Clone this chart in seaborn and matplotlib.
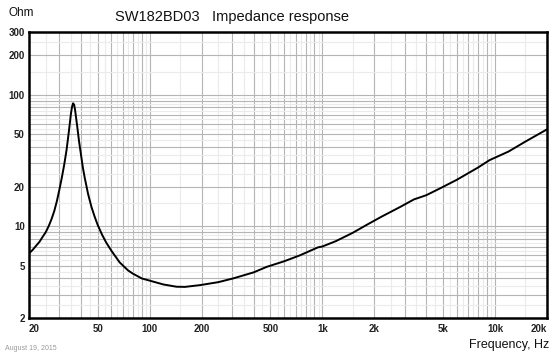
import numpy as np
import pandas as pd
import matplotlib
matplotlib.use("Agg")
import matplotlib.pyplot as plt
import matplotlib.ticker as mticker
import seaborn as sns

# impedance curve (Hz, Ohm)
freq = [20, 21, 22, 23, 24, 25, 26, 27, 28, 29, 30, 31, 32, 33, 34, 35,
        35.5, 36, 36.5, 37, 38, 39, 40, 41, 42, 44, 46, 48, 50, 53, 56, 60,
        67, 75, 80, 90, 100, 120, 143, 160, 196, 250, 304, 400, 476, 600,
        742, 944, 1000, 1200, 1500, 1800, 2200, 2824, 3400, 3600, 4000,
        4812, 6000, 8000, 9300, 12000, 15000, 20000]
ohm = [6.2, 6.6, 7.1, 7.6, 8.3, 9.0, 10.0, 11.3, 13.0, 15.5, 19.0, 23.5,
       29.5, 38, 52, 72, 81, 86, 84, 76, 58, 44, 35, 28, 23.5, 17.5, 14,
       11.8, 10.2, 8.6, 7.5, 6.5, 5.3, 4.6, 4.35, 4.0, 3.85, 3.6, 3.46,
       3.45, 3.56, 3.75, 4.0, 4.45, 4.9, 5.4, 6.0, 6.9, 7.0, 7.7, 8.9,
       10.2, 11.8, 14.0, 16.0, 16.4, 17.2, 19.4, 22.5, 28, 31.8, 37, 44,
       54.5]

x_labels = [20, 50, 100, 200, 500, 1000, 2000, 5000, 10000, 20000]
x_text = ['20', '50', '100', '200', '500', '1k', '2k', '5k', '10k', '20k']
y_labels = [2, 5, 10, 20, 50, 100, 200, 300]

df = pd.DataFrame({'freq': freq, 'ohm': ohm})

sns.set_style("white")
plt.rcParams['font.family'] = ['Liberation Sans', 'DejaVu Sans']

fig = plt.figure(figsize=(5.59, 3.56), dpi=100)
ax = fig.add_axes([0.0519, 0.1067, 0.9266, 0.8034])

ax.set_xscale('log')
ax.set_yscale('log')
ax.set_xlim(20, 20000)
ax.set_ylim(2, 300)

sns.lineplot(data=df, x='freq', y='ohm', ax=ax, color='black', linewidth=1.4,
             estimator=None, sort=False, zorder=5)

# grid: darker lines at 1..9 per decade, light lines at half steps
ax.xaxis.set_major_locator(mticker.LogLocator(base=10, subs=np.arange(1, 10), numticks=50))
ax.yaxis.set_major_locator(mticker.LogLocator(base=10, subs=np.arange(1, 10), numticks=50))
ax.xaxis.set_minor_locator(mticker.LogLocator(base=10, subs=np.arange(1.5, 10, 1), numticks=50))
ax.yaxis.set_minor_locator(mticker.LogLocator(base=10, subs=np.arange(1.5, 10, 1), numticks=50))


def xfmt(v, pos):
    for val, t in zip(x_labels, x_text):
        if abs(v - val) / val < 1e-6:
            return t
    return ''


def yfmt(v, pos):
    for val in y_labels:
        if abs(v - val) / val < 1e-6:
            return str(val)
    return ''


ax.xaxis.set_major_formatter(mticker.FuncFormatter(xfmt))
ax.yaxis.set_major_formatter(mticker.FuncFormatter(yfmt))
ax.xaxis.set_minor_formatter(mticker.NullFormatter())
ax.yaxis.set_minor_formatter(mticker.NullFormatter())

ax.grid(True, which='major', color='#b5b5b5', linewidth=0.8)
ax.grid(True, which='minor', color='#ebebeb', linewidth=0.8)
ax.set_axisbelow(True)

ax.tick_params(which='both', length=0)
ax.tick_params(axis='x', pad=4, labelsize=7)
ax.tick_params(axis='y', pad=3, labelsize=7)
fig.canvas.draw()
for lab in ax.get_xticklabels() + ax.get_yticklabels():
    lab.set_fontweight('bold')
    lab.set_color('#222222')
# keep the end labels inside the frame like the original
for lab in ax.get_xticklabels():
    if lab.get_text() == '20':
        lab.set_horizontalalignment('left')
    elif lab.get_text() == '20k':
        lab.set_horizontalalignment('right')

for s in ax.spines.values():
    s.set_visible(True)
    s.set_color('black')
    s.set_linewidth(1.8)

ax.set_xlabel('')
ax.set_ylabel('')

fig.text(0.205, 0.952, 'SW182BD03   Impedance response', fontsize=10.5,
         ha='left', va='center', color='#111111')
fig.text(0.016, 0.963, 'Ohm', fontsize=8.5, ha='left', va='center', color='#111111')
fig.text(0.982, 0.031, 'Frequency, Hz', fontsize=9, ha='right', va='center',
         color='#111111')
fig.text(0.009, 0.022, 'August 19, 2015', fontsize=5, ha='left', va='center',
         color='#999999')

plt.savefig('out.png', dpi=100)
plt.close()
